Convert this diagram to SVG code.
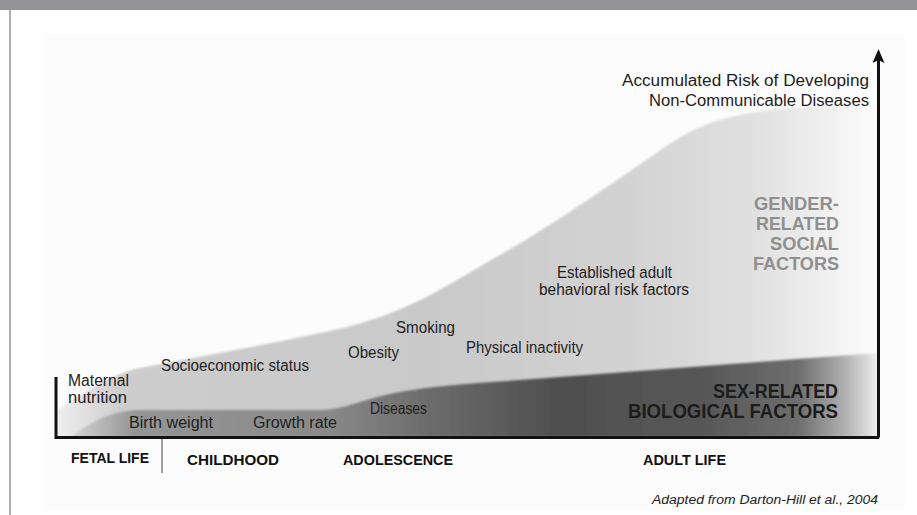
<svg xmlns="http://www.w3.org/2000/svg" width="917" height="515" viewBox="0 0 917 515">
  <defs>
    <style>
      .lbl { font-family: "Liberation Sans", Arial, sans-serif; font-size: 16px; fill: #1e1e1e; }
      .gender { font-family: "Liberation Sans", Arial, sans-serif; font-size: 19px; font-weight: bold; fill: #8f8f8f; text-anchor: end; }
      .sex { font-family: "Liberation Sans", Arial, sans-serif; font-size: 20px; font-weight: bold; fill: #1c1c1c; text-anchor: end; }
      .stage { font-family: "Liberation Sans", Arial, sans-serif; font-size: 15px; font-weight: bold; fill: #111; }
      .credit { font-family: "Liberation Sans", Arial, sans-serif; font-size: 12.5px; font-style: italic; fill: #222; text-anchor: end; }
      .axis { stroke: #111; stroke-width: 3; fill: none; }
    </style>
    <!-- social factors band: grey, fading out towards adult life -->
    <linearGradient id="socialFill" x1="57" y1="0" x2="880" y2="0" gradientUnits="userSpaceOnUse">
      <stop offset="0" stop-color="#eeeeee"/>
      <stop offset="0.08" stop-color="#cdcdcd"/>
      <stop offset="0.45" stop-color="#c9c9c9"/>
      <stop offset="0.7" stop-color="#d3d3d3"/>
      <stop offset="0.86" stop-color="#e2e2e2"/>
      <stop offset="0.95" stop-color="#f3f3f3"/>
      <stop offset="1" stop-color="#fcfcfc"/>
    </linearGradient>
    <!-- biological factors band: darker, darkest through adult life -->
    <linearGradient id="bioFill" x1="70" y1="0" x2="880" y2="0" gradientUnits="userSpaceOnUse">
      <stop offset="0" stop-color="#d6d6d6"/>
      <stop offset="0.08" stop-color="#959595"/>
      <stop offset="0.32" stop-color="#898989"/>
      <stop offset="0.44" stop-color="#6c6c6c"/>
      <stop offset="0.6" stop-color="#4f4f4f"/>
      <stop offset="0.78" stop-color="#575757"/>
      <stop offset="0.9" stop-color="#6e6e6e"/>
      <stop offset="0.96" stop-color="#b5b5b5"/>
      <stop offset="1" stop-color="#f2f2f2"/>
    </linearGradient>
    <filter id="soft" x="-5%" y="-5%" width="110%" height="110%">
      <feGaussianBlur stdDeviation="1.2"/>
    </filter>
    <marker id="arrowHead" markerWidth="14" markerHeight="12" refX="11" refY="6" orient="auto" markerUnits="userSpaceOnUse" viewBox="0 0 14 12">
      <path d="M0,0 L14,6 L0,12 L3,6 Z" fill="#111"/>
    </marker>
  </defs>

  <!-- page frame -->
  <rect x="0" y="0" width="917" height="515" fill="#ffffff"/>
  <rect x="43" y="33" width="862" height="478" fill="#fcfcfc"/>
  <rect x="0" y="0" width="917" height="10" fill="#939397"/>
  <line x1="10" y1="10" x2="10" y2="515" stroke="#9a9a9a" stroke-width="1.6"/>

  <!-- risk bands -->
  <g id="social-band">
    <path d="M57,410 C85,393 110,374 140,368 S250,348 330,331 S450,283 500,255 S610,185 665,147 S760,110 880,102 L880,437 L57,437 Z" fill="url(#socialFill)" filter="url(#soft)"/>
  </g>
  <g id="biological-band">
    <path d="M70,437 C95,420 110,411 140,410 L320,410 C345,410 365,398 400,392 S460,384 520,380 L878,353 L878,437 Z" fill="url(#bioFill)" filter="url(#soft)"/>
  </g>

  <!-- axes -->
  <g id="connectors">
    <polyline class="axis" points="56,377 56,437.5 879,437.5"/>
    <line class="axis" x1="878.5" y1="437.5" x2="878.5" y2="52" marker-end="url(#arrowHead)"/>
    <line x1="162" y1="439" x2="162" y2="473" stroke="#444" stroke-width="1"/>
  </g>

  <!-- axis title -->
  <g id="axis-title">
    <text class="lbl" x="869" y="86" text-anchor="end" font-size="17.5" textLength="247" lengthAdjust="spacingAndGlyphs">Accumulated Risk of Developing</text>
    <text class="lbl" x="869" y="106" text-anchor="end" font-size="17.5" textLength="220" lengthAdjust="spacingAndGlyphs">Non-Communicable Diseases</text>
  </g>

  <!-- band titles -->
  <g id="gender-related">
    <text class="gender" x="839" y="210" textLength="85" lengthAdjust="spacingAndGlyphs">GENDER-</text>
    <text class="gender" x="839" y="230" textLength="83" lengthAdjust="spacingAndGlyphs">RELATED</text>
    <text class="gender" x="839" y="250" textLength="69" lengthAdjust="spacingAndGlyphs">SOCIAL</text>
    <text class="gender" x="839" y="270" textLength="86" lengthAdjust="spacingAndGlyphs">FACTORS</text>
  </g>
  <g id="sex-related">
    <text class="sex" x="838" y="398" textLength="125" lengthAdjust="spacingAndGlyphs">SEX-RELATED</text>
    <text class="sex" x="838" y="418" textLength="210" lengthAdjust="spacingAndGlyphs">BIOLOGICAL FACTORS</text>
  </g>

  <!-- risk factors -->
  <g id="established">
    <text class="lbl" x="557" y="278" textLength="115" lengthAdjust="spacingAndGlyphs">Established adult</text>
    <text class="lbl" x="539" y="295" textLength="150" lengthAdjust="spacingAndGlyphs">behavioral risk factors</text>
  </g>
  <g id="smoking"><text class="lbl" x="396" y="333" textLength="59" lengthAdjust="spacingAndGlyphs">Smoking</text></g>
  <g id="obesity"><text class="lbl" x="348" y="358" textLength="51" lengthAdjust="spacingAndGlyphs">Obesity</text></g>
  <g id="physical-inactivity"><text class="lbl" x="466" y="353" textLength="117" lengthAdjust="spacingAndGlyphs">Physical inactivity</text></g>
  <g id="socioeconomic"><text class="lbl" x="161" y="371" textLength="148" lengthAdjust="spacingAndGlyphs">Socioeconomic status</text></g>
  <g id="maternal-nutrition">
    <text class="lbl" x="68" y="386" font-size="14" textLength="61" lengthAdjust="spacingAndGlyphs">Maternal</text>
    <text class="lbl" x="68" y="403" font-size="14" textLength="59" lengthAdjust="spacingAndGlyphs">nutrition</text>
  </g>
  <g id="birth-weight"><text class="lbl" x="129" y="428" textLength="84" lengthAdjust="spacingAndGlyphs">Birth weight</text></g>
  <g id="growth-rate"><text class="lbl" x="253" y="428" textLength="84" lengthAdjust="spacingAndGlyphs">Growth rate</text></g>
  <g id="diseases"><text class="lbl" x="370" y="414" font-size="15" textLength="57" lengthAdjust="spacingAndGlyphs">Diseases</text></g>

  <!-- life stages -->
  <g id="stages">
    <text class="stage" x="71" y="463" textLength="78" lengthAdjust="spacingAndGlyphs">FETAL LIFE</text>
    <text class="stage" x="187" y="465" textLength="92" lengthAdjust="spacingAndGlyphs">CHILDHOOD</text>
    <text class="stage" x="343" y="465" textLength="110" lengthAdjust="spacingAndGlyphs">ADOLESCENCE</text>
    <text class="stage" x="643" y="465" textLength="83" lengthAdjust="spacingAndGlyphs">ADULT LIFE</text>
  </g>

  <text class="credit" x="878" y="504" textLength="226" lengthAdjust="spacingAndGlyphs">Adapted from Darton-Hill et al., 2004</text>
</svg>
